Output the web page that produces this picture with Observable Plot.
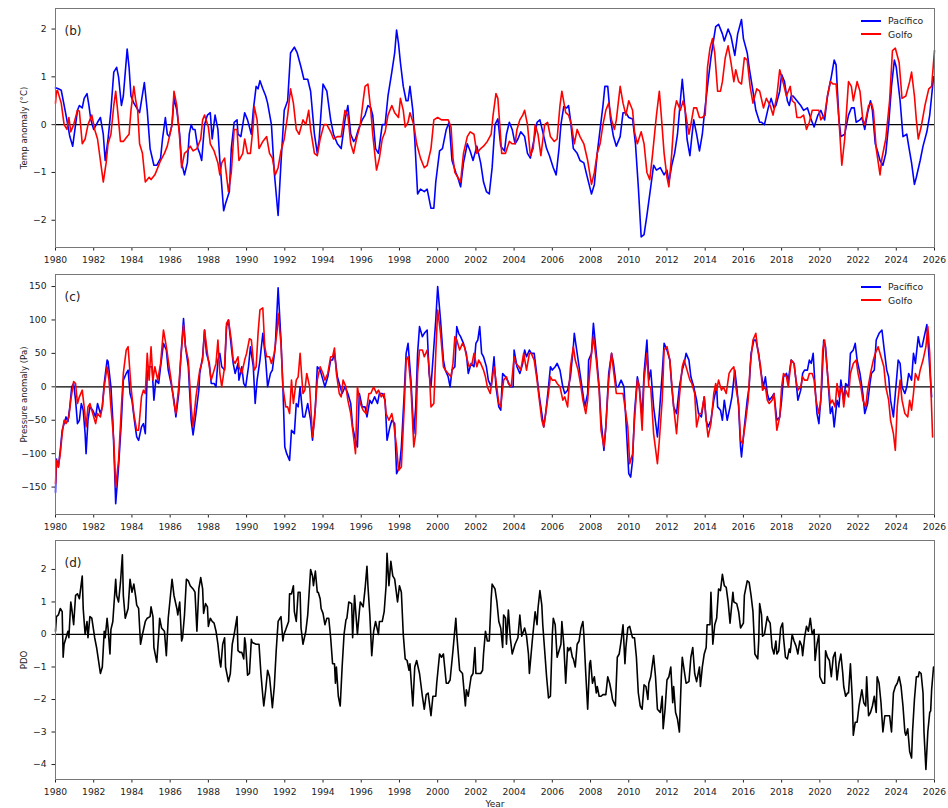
<!DOCTYPE html>
<html><head><meta charset="utf-8">
<script src="https://cdn.jsdelivr.net/npm/d3@7"></script>
<script src="https://cdn.jsdelivr.net/npm/@observablehq/plot@0.6"></script>
<style>
body{margin:0;background:#fff;font-family:"DejaVu Sans",sans-serif;}
#wrap{position:relative;width:948px;}
g[aria-label="y-axis label"] text{font-size:8.6px;}
g[aria-label="x-axis label"] text{font-size:9px;}
.lg{position:absolute;left:861px;font-size:9.3px;color:#222;line-height:13.5px;}
.lg .row{display:flex;align-items:center;height:13.5px;}
.lg .sw{display:inline-block;width:20px;height:2px;margin-right:7px;}
</style></head><body><div id="wrap"></div>
<script>
const years = d3.range(1980, 2027, 2);
const seriesNames = ["Pacífico", "Golfo"];
const seriesColors = ["#0000ff", "#ff0000"];

const tempPacifico = [[1980.0,0.77],[1980.15,0.75],[1980.3,0.72],[1980.55,0.2],[1980.75,-0.25],[1980.9,-0.45],[1981.15,0.3],[1981.25,0.4],[1981.4,0.35],[1981.5,0.55],[1981.65,0.65],[1981.75,0.4],[1981.85,0.1],[1982.0,-0.1],[1982.2,0.05],[1982.35,0.15],[1982.5,-0.2],[1982.6,-0.75],[1982.75,-0.3],[1982.9,0.3],[1983.05,1.1],[1983.2,1.2],[1983.3,1.0],[1983.45,0.4],[1983.55,0.6],[1983.75,1.58],[1983.85,1.2],[1983.95,0.6],[1984.1,0.45],[1984.25,0.35],[1984.4,0.25],[1984.65,0.88],[1984.8,0.3],[1984.95,-0.5],[1985.15,-0.85],[1985.3,-0.85],[1985.5,-0.7],[1985.6,-0.3],[1985.75,0.15],[1985.85,-0.2],[1985.95,-0.25],[1986.1,0.0],[1986.2,0.55],[1986.35,0.3],[1986.5,-0.2],[1986.6,-0.8],[1986.75,-1.05],[1986.9,-0.8],[1987.0,-0.2],[1987.1,0.0],[1987.2,-0.1],[1987.3,-0.1],[1987.45,-0.5],[1987.55,-0.6],[1987.65,-0.75],[1987.8,0.0],[1987.95,0.2],[1988.1,0.25],[1988.2,-0.3],[1988.35,0.2],[1988.5,-0.1],[1988.6,-0.75],[1988.8,-1.8],[1988.9,-1.65],[1989.1,-1.4],[1989.2,-0.5],[1989.35,0.05],[1989.5,0.1],[1989.55,-0.2],[1989.7,-0.25],[1989.9,0.25],[1990.05,0.1],[1990.25,-0.2],[1990.35,0.3],[1990.5,0.8],[1990.6,0.75],[1990.7,0.92],[1990.85,0.75],[1991.0,0.6],[1991.1,0.45],[1991.3,0.0],[1991.45,-1.0],[1991.65,-1.9],[1991.8,-0.8],[1991.97,0.3],[1992.15,0.5],[1992.3,1.5],[1992.5,1.62],[1992.65,1.5],[1992.85,1.2],[1993.0,0.95],[1993.2,0.95],[1993.35,0.7],[1993.55,-0.2],[1993.7,-0.6],[1993.8,-0.3],[1994.0,0.85],[1994.2,0.7],[1994.3,0.4],[1994.4,0.1],[1994.55,-0.2],[1994.75,-0.4],[1994.95,-0.5],[1995.15,0.1],[1995.3,0.4],[1995.45,-0.2],[1995.6,-0.35],[1995.7,-0.3],[1995.85,-0.1],[1996.05,0.1],[1996.2,0.2],[1996.35,0.4],[1996.5,0.35],[1996.6,0.2],[1996.75,-0.5],[1996.9,-0.6],[1997.1,0.0],[1997.25,0.0],[1997.4,0.6],[1997.6,1.1],[1997.75,1.5],[1997.85,1.98],[1997.95,1.7],[1998.05,1.3],[1998.2,0.8],[1998.35,0.5],[1998.45,0.5],[1998.55,0.8],[1998.7,0.3],[1998.8,-0.3],[1998.95,-1.45],[1999.1,-1.35],[1999.3,-1.4],[1999.45,-1.35],[1999.65,-1.75],[1999.8,-1.75],[1999.9,-1.2],[2000.1,-0.55],[2000.25,-0.5],[2000.45,-0.1],[2000.6,0.05],[2000.75,-0.75],[2000.95,-1.0],[2001.05,-1.1],[2001.2,-1.3],[2001.35,-0.8],[2001.55,-0.4],[2001.7,-0.55],[2001.85,-0.75],[2002.05,-0.45],[2002.25,-0.8],[2002.4,-1.2],[2002.55,-1.4],[2002.7,-1.45],[2002.85,-0.9],[2003.0,0.0],[2003.15,0.12],[2003.3,-0.45],[2003.5,-0.55],[2003.6,-0.2],[2003.75,0.05],[2003.9,-0.1],[2004.05,-0.4],[2004.2,-0.3],[2004.35,-0.15],[2004.55,-0.25],[2004.7,-0.6],[2004.85,-0.7],[2005.05,-0.3],[2005.2,0.05],[2005.35,0.1],[2005.5,-0.15],[2005.7,-0.5],[2005.85,-0.65],[2006.05,-0.9],[2006.2,-1.05],[2006.35,-0.5],[2006.45,0.0],[2006.6,0.38],[2006.75,0.35],[2006.85,0.4],[2006.95,0.1],[2007.1,-0.5],[2007.3,-0.6],[2007.45,-0.75],[2007.65,-0.8],[2007.8,-1.05],[2008.05,-1.45],[2008.2,-1.25],[2008.35,-0.6],[2008.5,-0.1],[2008.65,0.4],[2008.75,0.8],[2008.9,0.8],[2009.05,0.1],[2009.2,-0.25],[2009.35,-0.45],[2009.55,-0.25],[2009.7,0.25],[2009.85,0.25],[2010.0,0.15],[2010.2,0.12],[2010.35,-0.4],[2010.5,-1.3],[2010.65,-2.35],[2010.8,-2.3],[2010.95,-1.9],[2011.15,-1.3],[2011.3,-0.85],[2011.45,-0.95],[2011.65,-0.9],[2011.85,-1.05],[2012.0,-0.95],[2012.1,-1.2],[2012.25,-0.85],[2012.4,-0.6],[2012.55,-0.2],[2012.7,0.5],[2012.8,0.95],[2012.95,0.3],[2013.05,-0.3],[2013.2,-0.65],[2013.3,-0.25],[2013.4,0.1],[2013.55,-0.2],[2013.7,-0.55],[2013.85,-0.2],[2013.95,0.2],[2014.15,0.9],[2014.3,1.4],[2014.45,1.8],[2014.55,2.05],[2014.7,2.1],[2014.9,1.9],[2015.0,1.75],[2015.2,2.0],[2015.35,1.85],[2015.55,1.45],[2015.7,1.9],[2015.9,2.2],[2016.0,1.8],[2016.2,1.5],[2016.3,1.2],[2016.5,0.7],[2016.65,0.3],[2016.85,0.05],[2016.95,0.05],[2017.1,0.0],[2017.3,0.35],[2017.45,0.55],[2017.6,0.35],[2017.7,0.4],[2017.9,0.7],[2018.0,1.05],[2018.15,0.9],[2018.3,0.5],[2018.4,0.4],[2018.5,0.6],[2018.6,0.6],[2018.8,0.5],[2019.0,0.4],[2019.15,0.3],[2019.35,0.35],[2019.55,0.1],[2019.7,-0.05],[2019.9,0.2],[2020.05,0.3],[2020.25,0.1],[2020.4,0.6],[2020.6,1.0],[2020.75,1.35],[2020.85,1.25],[2021.0,0.1],[2021.1,-0.25],[2021.3,-0.2],[2021.5,0.2],[2021.65,0.35],[2021.8,0.35],[2021.9,0.05],[2022.1,0.1],[2022.2,0.15],[2022.35,-0.1],[2022.5,0.25],[2022.65,0.5],[2022.75,0.3],[2022.9,-0.4],[2023.05,-0.6],[2023.15,-0.75],[2023.3,-0.85],[2023.45,-0.6],[2023.6,0.0],[2023.75,0.8],[2023.9,1.35],[2024.0,1.2],[2024.2,0.5],[2024.35,-0.25],[2024.55,-0.2],[2024.65,-0.45],[2024.8,-0.8],[2024.95,-1.25],[2025.05,-1.1],[2025.25,-0.75],[2025.4,-0.45],[2025.6,-0.15],[2025.75,0.2],[2025.85,0.6],[2025.95,1.0]];

const tempGolfo = [[1980.0,0.45],[1980.05,0.7],[1980.1,0.72],[1980.3,0.45],[1980.45,0.0],[1980.6,-0.1],[1980.7,0.15],[1980.8,-0.15],[1980.95,0.0],[1981.15,0.3],[1981.25,0.28],[1981.4,-0.4],[1981.55,-0.3],[1981.7,0.0],[1981.9,0.2],[1982.05,-0.1],[1982.2,-0.3],[1982.4,-0.9],[1982.5,-1.2],[1982.65,-0.8],[1982.75,-0.4],[1982.9,-0.2],[1983.05,0.4],[1983.15,0.7],[1983.25,0.3],[1983.4,-0.35],[1983.55,-0.35],[1983.75,-0.25],[1983.85,-0.2],[1983.95,0.3],[1984.1,0.8],[1984.2,0.5],[1984.3,0.3],[1984.4,-0.4],[1984.55,-0.6],[1984.7,-1.2],[1984.9,-1.1],[1985.0,-1.15],[1985.2,-1.05],[1985.35,-0.9],[1985.5,-0.75],[1985.7,-0.6],[1985.85,-0.45],[1986.1,0.0],[1986.2,0.7],[1986.35,0.4],[1986.5,-0.3],[1986.6,-0.9],[1986.75,-0.6],[1986.9,-0.55],[1987.05,-0.45],[1987.2,-0.55],[1987.4,-0.5],[1987.6,-0.3],[1987.7,0.1],[1987.8,0.2],[1988.0,-0.05],[1988.1,-0.4],[1988.3,-0.55],[1988.5,-0.8],[1988.6,-1.05],[1988.7,-0.8],[1988.85,-0.7],[1988.9,-0.9],[1989.05,-1.4],[1989.2,-1.0],[1989.35,-0.1],[1989.5,-0.1],[1989.6,-0.75],[1989.8,-0.6],[1989.9,-0.3],[1990.05,-0.6],[1990.2,-0.6],[1990.35,0.0],[1990.4,0.38],[1990.55,0.1],[1990.65,-0.5],[1990.85,-0.35],[1991.05,-0.25],[1991.2,-0.6],[1991.35,-0.7],[1991.5,-1.05],[1991.65,-0.9],[1991.8,-0.55],[1991.97,-0.3],[1992.15,0.2],[1992.3,0.75],[1992.45,0.45],[1992.6,-0.1],[1992.75,-0.2],[1992.95,0.1],[1993.1,0.0],[1993.25,0.3],[1993.35,-0.1],[1993.55,-0.6],[1993.7,-0.65],[1993.85,-0.3],[1994.05,0.0],[1994.2,0.0],[1994.4,-0.15],[1994.55,-0.3],[1994.75,-0.25],[1994.95,-0.25],[1995.15,0.3],[1995.3,0.2],[1995.45,-0.4],[1995.6,-0.6],[1995.75,-0.3],[1995.95,0.0],[1996.1,0.5],[1996.2,0.8],[1996.35,0.85],[1996.5,0.3],[1996.6,-0.2],[1996.8,-0.95],[1996.95,-0.7],[1997.1,-0.3],[1997.25,-0.15],[1997.4,0.2],[1997.6,0.4],[1997.75,0.25],[1997.95,0.15],[1998.05,0.55],[1998.2,0.3],[1998.3,-0.05],[1998.45,0.05],[1998.55,0.25],[1998.75,0.0],[1998.9,-0.4],[1999.1,-0.7],[1999.3,-0.9],[1999.45,-0.85],[1999.65,-0.5],[1999.8,0.1],[2000.0,0.15],[2000.2,0.1],[2000.35,0.1],[2000.55,0.1],[2000.7,-0.05],[2000.8,-0.7],[2000.9,-1.0],[2001.05,-1.1],[2001.2,-1.2],[2001.35,-0.6],[2001.55,-0.25],[2001.7,-0.15],[2001.9,-0.2],[2002.05,-0.6],[2002.25,-0.5],[2002.4,-0.45],[2002.6,-0.35],[2002.8,-0.2],[2002.9,0.2],[2003.05,0.65],[2003.15,0.55],[2003.25,0.0],[2003.35,-0.6],[2003.55,-0.6],[2003.75,-0.35],[2003.9,-0.4],[2004.05,-0.4],[2004.15,-0.1],[2004.3,0.1],[2004.45,0.2],[2004.55,0.3],[2004.7,0.0],[2004.85,-0.65],[2005.0,-0.5],[2005.1,0.0],[2005.25,-0.2],[2005.4,-0.65],[2005.6,0.0],[2005.75,0.05],[2005.9,-0.25],[2006.1,-0.35],[2006.25,-0.3],[2006.4,0.4],[2006.5,0.7],[2006.7,0.25],[2006.85,0.2],[2007.0,0.0],[2007.15,-0.4],[2007.3,-0.1],[2007.45,-0.25],[2007.65,-0.4],[2007.85,-0.75],[2008.05,-1.25],[2008.2,-1.0],[2008.35,-0.6],[2008.5,-0.4],[2008.65,0.0],[2008.8,0.3],[2008.95,0.45],[2009.1,0.1],[2009.25,-0.1],[2009.35,0.1],[2009.55,0.8],[2009.7,0.45],[2009.85,0.2],[2010.0,0.5],[2010.2,0.3],[2010.3,-0.15],[2010.45,-0.4],[2010.65,-0.15],[2010.8,-0.4],[2010.95,-1.0],[2011.1,-1.15],[2011.25,-0.6],[2011.45,0.2],[2011.6,0.7],[2011.7,0.2],[2011.85,-0.6],[2012.0,-1.1],[2012.1,-1.3],[2012.25,-0.6],[2012.4,0.3],[2012.5,0.5],[2012.7,0.3],[2012.85,0.5],[2012.95,0.3],[2013.15,-0.2],[2013.25,0.0],[2013.4,0.35],[2013.55,0.35],[2013.7,0.15],[2013.85,0.15],[2014.0,0.2],[2014.12,1.2],[2014.25,1.6],[2014.38,1.8],[2014.5,1.5],[2014.65,0.7],[2014.8,0.7],[2014.9,0.9],[2015.05,1.4],[2015.2,1.65],[2015.35,1.3],[2015.5,0.9],[2015.6,1.15],[2015.75,0.9],[2015.9,0.85],[2016.05,1.4],[2016.2,1.35],[2016.35,0.8],[2016.5,0.45],[2016.7,0.75],[2016.85,0.7],[2017.05,0.35],[2017.2,0.55],[2017.4,0.4],[2017.55,0.2],[2017.75,0.6],[2017.9,1.15],[2018.1,0.85],[2018.25,0.6],[2018.45,0.8],[2018.55,0.5],[2018.7,0.45],[2018.8,0.15],[2019.0,0.15],[2019.15,0.2],[2019.3,-0.1],[2019.45,0.05],[2019.6,0.3],[2019.8,0.3],[2019.95,0.3],[2020.05,0.1],[2020.25,0.2],[2020.4,0.6],[2020.55,0.9],[2020.7,0.85],[2020.85,0.85],[2021.0,0.1],[2021.15,-0.85],[2021.3,-0.3],[2021.4,0.3],[2021.5,0.9],[2021.65,0.8],[2021.75,0.5],[2021.95,0.9],[2022.1,0.7],[2022.25,0.1],[2022.35,0.0],[2022.55,0.4],[2022.7,0.45],[2022.8,0.3],[2022.95,-0.5],[2023.15,-1.05],[2023.25,-0.7],[2023.45,-0.3],[2023.65,0.5],[2023.8,1.55],[2023.95,1.6],[2024.15,1.3],[2024.3,0.55],[2024.5,0.6],[2024.7,0.9],[2024.8,1.1],[2024.95,0.6],[2025.05,0.1],[2025.15,-0.3],[2025.3,-0.05],[2025.5,0.4],[2025.7,0.75],[2025.85,0.8],[2026.0,1.55]];

const pressPacifico = [[1980.0,-158],[1980.05,-108],[1980.15,-120],[1980.25,-95],[1980.35,-65],[1980.45,-55],[1980.55,-45],[1980.65,-52],[1980.75,-30],[1980.85,0],[1980.95,5],[1981.05,-20],[1981.15,-55],[1981.25,-50],[1981.35,-25],[1981.45,-35],[1981.55,-70],[1981.6,-100],[1981.7,-50],[1981.8,-30],[1981.95,-35],[1982.1,-45],[1982.2,-25],[1982.35,-40],[1982.45,-30],[1982.55,5],[1982.7,40],[1982.75,38],[1982.9,0],[1983.0,-50],[1983.1,-130],[1983.15,-175],[1983.3,-120],[1983.45,-50],[1983.55,10],[1983.7,20],[1983.8,25],[1983.9,-10],[1984.0,-20],[1984.15,-55],[1984.25,-75],[1984.35,-80],[1984.5,-60],[1984.6,-55],[1984.7,-70],[1984.8,20],[1984.9,30],[1985.05,30],[1985.15,-20],[1985.25,10],[1985.4,5],[1985.5,30],[1985.65,65],[1985.8,55],[1985.9,25],[1986.05,5],[1986.2,-20],[1986.3,-45],[1986.45,-10],[1986.55,40],[1986.7,102],[1986.8,60],[1986.95,30],[1987.1,-50],[1987.2,-72],[1987.35,-40],[1987.5,-5],[1987.55,20],[1987.7,45],[1987.8,85],[1987.9,50],[1988.05,35],[1988.15,5],[1988.3,5],[1988.4,0],[1988.5,40],[1988.6,50],[1988.7,30],[1988.85,25],[1988.95,90],[1989.05,100],[1989.2,60],[1989.3,35],[1989.4,20],[1989.55,35],[1989.6,10],[1989.75,30],[1989.85,5],[1989.95,0],[1990.1,30],[1990.2,60],[1990.35,30],[1990.45,-25],[1990.55,10],[1990.7,40],[1990.85,80],[1991.0,40],[1991.1,0],[1991.25,20],[1991.35,25],[1991.5,60],[1991.65,148],[1991.8,70],[1991.9,0],[1992.0,-90],[1992.1,-100],[1992.25,-110],[1992.35,-65],[1992.5,-70],[1992.6,-25],[1992.7,-30],[1992.8,0],[1992.95,-45],[1993.05,-45],[1993.2,-25],[1993.35,-50],[1993.45,-80],[1993.6,-30],[1993.7,30],[1993.85,25],[1994.0,10],[1994.1,0],[1994.25,15],[1994.4,40],[1994.5,40],[1994.6,50],[1994.75,15],[1994.9,0],[1995.0,-10],[1995.15,0],[1995.3,-10],[1995.45,-25],[1995.55,-60],[1995.7,-80],[1995.8,-90],[1995.9,-10],[1996.05,-30],[1996.2,-30],[1996.3,-45],[1996.45,-20],[1996.55,-25],[1996.7,-15],[1996.85,-25],[1996.95,-10],[1997.1,-10],[1997.25,-20],[1997.35,-80],[1997.5,-60],[1997.6,-50],[1997.75,-55],[1997.85,-130],[1998.0,-120],[1998.1,-90],[1998.25,-10],[1998.35,50],[1998.45,65],[1998.6,10],[1998.75,-70],[1998.85,-30],[1998.95,50],[1999.05,90],[1999.2,75],[1999.3,80],[1999.45,85],[1999.55,20],[1999.65,0],[1999.8,60],[1999.9,100],[2000.0,150],[2000.15,100],[2000.3,40],[2000.4,25],[2000.55,15],[2000.65,0],[2000.75,25],[2000.9,30],[2001.0,90],[2001.1,80],[2001.2,75],[2001.35,65],[2001.5,50],[2001.6,20],[2001.75,35],[2001.9,30],[2002.0,65],[2002.1,70],[2002.2,90],[2002.3,50],[2002.4,45],[2002.55,30],[2002.65,10],[2002.8,0],[2002.95,45],[2003.05,0],[2003.2,-30],[2003.3,-35],[2003.4,20],[2003.55,15],[2003.65,10],[2003.8,0],[2003.95,0],[2004.0,55],[2004.15,30],[2004.3,20],[2004.45,35],[2004.55,55],[2004.65,45],[2004.8,55],[2004.9,50],[2005.05,50],[2005.2,15],[2005.3,-10],[2005.45,-40],[2005.55,-60],[2005.65,-40],[2005.8,0],[2005.9,30],[2006.0,25],[2006.15,30],[2006.25,35],[2006.4,25],[2006.55,0],[2006.65,-10],[2006.8,-5],[2006.95,15],[2007.1,60],[2007.15,80],[2007.3,50],[2007.4,30],[2007.55,0],[2007.7,-30],[2007.85,-10],[2007.9,40],[2008.05,50],[2008.15,95],[2008.3,50],[2008.45,0],[2008.55,-50],[2008.7,-95],[2008.8,-60],[2008.95,20],[2009.1,50],[2009.2,35],[2009.35,0],[2009.45,0],[2009.6,10],[2009.75,0],[2009.85,-50],[2010.0,-130],[2010.1,-135],[2010.2,-110],[2010.3,-40],[2010.45,15],[2010.55,0],[2010.7,-45],[2010.8,20],[2010.95,70],[2011.05,10],[2011.15,25],[2011.3,-30],[2011.5,-75],[2011.6,-40],[2011.75,20],[2011.85,65],[2012.0,55],[2012.15,40],[2012.25,0],[2012.35,-30],[2012.5,-40],[2012.65,0],[2012.8,25],[2012.9,35],[2013.0,50],[2013.15,40],[2013.25,15],[2013.4,0],[2013.55,-20],[2013.65,-40],[2013.8,-45],[2013.95,-15],[2014.05,-50],[2014.15,-60],[2014.3,-50],[2014.45,-20],[2014.6,0],[2014.65,-30],[2014.8,-35],[2014.9,-50],[2015.0,-20],[2015.15,-50],[2015.3,-30],[2015.4,-15],[2015.55,25],[2015.65,0],[2015.75,-30],[2015.85,-90],[2015.9,-105],[2016.05,-60],[2016.2,-20],[2016.3,0],[2016.4,50],[2016.55,70],[2016.65,70],[2016.8,50],[2016.9,25],[2017.05,0],[2017.15,15],[2017.25,-10],[2017.35,-20],[2017.5,-15],[2017.6,-10],[2017.75,-50],[2017.9,-45],[2018.0,-20],[2018.1,15],[2018.25,20],[2018.35,10],[2018.5,40],[2018.65,35],[2018.75,10],[2018.85,-20],[2019.0,-5],[2019.1,20],[2019.2,25],[2019.35,25],[2019.45,40],[2019.55,35],[2019.65,50],[2019.75,0],[2019.85,-40],[2019.95,-55],[2020.1,0],[2020.2,70],[2020.3,60],[2020.45,0],[2020.55,-40],[2020.65,-30],[2020.75,-60],[2020.9,-20],[2021.0,-30],[2021.1,10],[2021.25,-20],[2021.35,5],[2021.5,0],[2021.6,50],[2021.75,55],[2021.85,65],[2021.95,40],[2022.1,20],[2022.25,-10],[2022.35,-40],[2022.5,-25],[2022.6,0],[2022.7,20],[2022.85,25],[2022.95,70],[2023.1,80],[2023.25,85],[2023.35,60],[2023.5,25],[2023.6,15],[2023.7,-20],[2023.85,-45],[2023.95,-10],[2024.1,40],[2024.2,35],[2024.3,0],[2024.45,-10],[2024.55,0],[2024.65,20],[2024.8,10],[2024.9,50],[2025.0,35],[2025.15,75],[2025.25,60],[2025.35,60],[2025.5,80],[2025.6,93],[2025.7,50],[2025.85,-15]];

const pressGolfo = [[1980.0,-145],[1980.05,-110],[1980.15,-120],[1980.25,-100],[1980.35,-70],[1980.45,-50],[1980.55,-55],[1980.7,-45],[1980.8,-20],[1980.95,8],[1981.05,5],[1981.15,-25],[1981.25,-15],[1981.4,-5],[1981.5,-30],[1981.6,-60],[1981.7,-30],[1981.8,-25],[1981.95,-40],[1982.1,-55],[1982.2,-40],[1982.35,-45],[1982.45,-30],[1982.55,0],[1982.7,30],[1982.8,10],[1982.9,-30],[1983.05,-80],[1983.15,-150],[1983.3,-110],[1983.45,-30],[1983.55,20],[1983.7,55],[1983.8,60],[1983.95,0],[1984.1,-40],[1984.25,-65],[1984.35,-65],[1984.5,-15],[1984.6,-5],[1984.7,-10],[1984.8,50],[1984.9,10],[1985.0,60],[1985.1,10],[1985.2,30],[1985.35,10],[1985.5,35],[1985.65,85],[1985.8,60],[1985.9,40],[1986.05,10],[1986.2,-25],[1986.3,-40],[1986.45,0],[1986.55,40],[1986.7,92],[1986.8,60],[1986.95,40],[1987.1,-30],[1987.2,-60],[1987.35,-15],[1987.5,15],[1987.55,25],[1987.7,40],[1987.8,85],[1987.95,50],[1988.05,30],[1988.15,10],[1988.3,25],[1988.4,35],[1988.5,70],[1988.6,20],[1988.7,0],[1988.85,30],[1988.95,95],[1989.05,100],[1989.2,70],[1989.3,40],[1989.4,35],[1989.55,45],[1989.6,30],[1989.75,20],[1989.9,40],[1990.0,50],[1990.15,72],[1990.25,70],[1990.4,25],[1990.5,30],[1990.6,80],[1990.7,115],[1990.85,118],[1990.95,60],[1991.05,45],[1991.2,45],[1991.3,35],[1991.45,50],[1991.6,85],[1991.65,110],[1991.8,65],[1991.9,0],[1992.05,-30],[1992.15,-30],[1992.25,-40],[1992.35,10],[1992.45,-25],[1992.6,10],[1992.7,15],[1992.8,50],[1992.95,-10],[1993.05,-5],[1993.15,20],[1993.3,0],[1993.45,-75],[1993.55,-50],[1993.7,10],[1993.85,30],[1994.0,20],[1994.1,10],[1994.25,20],[1994.4,45],[1994.5,45],[1994.6,58],[1994.7,20],[1994.85,-10],[1994.95,-15],[1995.05,10],[1995.2,0],[1995.3,-20],[1995.45,-40],[1995.6,-75],[1995.7,-100],[1995.8,0],[1995.95,-25],[1996.1,-35],[1996.25,-40],[1996.4,-10],[1996.5,-10],[1996.65,0],[1996.8,-10],[1996.9,-5],[1997.05,-15],[1997.2,-10],[1997.3,-40],[1997.45,-50],[1997.6,-40],[1997.7,-55],[1997.85,-90],[1997.95,-125],[1998.1,-120],[1998.25,-30],[1998.35,40],[1998.45,45],[1998.6,0],[1998.75,-90],[1998.85,-70],[1998.95,20],[1999.05,55],[1999.2,55],[1999.3,45],[1999.45,55],[1999.55,30],[1999.65,-30],[1999.8,-25],[1999.9,50],[2000.0,115],[2000.15,80],[2000.3,30],[2000.4,25],[2000.55,20],[2000.7,15],[2000.8,35],[2000.9,75],[2001.0,70],[2001.15,55],[2001.3,65],[2001.4,60],[2001.55,40],[2001.65,30],[2001.8,35],[2001.9,50],[2002.05,30],[2002.15,40],[2002.25,35],[2002.4,25],[2002.5,15],[2002.6,0],[2002.75,-10],[2002.95,30],[2003.05,10],[2003.2,-25],[2003.3,-30],[2003.45,10],[2003.6,15],[2003.7,5],[2003.85,0],[2004.0,45],[2004.1,35],[2004.25,30],[2004.35,25],[2004.5,50],[2004.65,25],[2004.8,50],[2004.9,50],[2005.05,40],[2005.2,10],[2005.3,-15],[2005.45,-50],[2005.55,-60],[2005.65,-40],[2005.8,-10],[2005.9,15],[2006.0,10],[2006.15,10],[2006.25,5],[2006.4,0],[2006.55,-20],[2006.65,-15],[2006.8,-30],[2006.95,30],[2007.1,60],[2007.2,40],[2007.35,25],[2007.5,0],[2007.6,-20],[2007.75,-40],[2007.85,-20],[2007.95,20],[2008.05,50],[2008.15,75],[2008.3,40],[2008.45,-5],[2008.55,-65],[2008.7,-90],[2008.8,-60],[2008.95,10],[2009.1,50],[2009.2,25],[2009.35,-10],[2009.45,-10],[2009.55,-10],[2009.7,-10],[2009.8,-30],[2009.95,-60],[2010.05,-115],[2010.2,-100],[2010.3,-50],[2010.45,10],[2010.55,0],[2010.7,-65],[2010.8,10],[2010.95,50],[2011.05,0],[2011.15,0],[2011.3,-70],[2011.5,-115],[2011.6,-80],[2011.75,-20],[2011.85,55],[2012.0,60],[2012.15,40],[2012.25,5],[2012.35,-30],[2012.5,-70],[2012.65,-15],[2012.8,30],[2012.9,40],[2013.05,25],[2013.2,10],[2013.3,5],[2013.45,-10],[2013.55,-60],[2013.7,-40],[2013.8,-40],[2013.95,-15],[2014.05,-50],[2014.15,-75],[2014.3,-55],[2014.45,-10],[2014.55,5],[2014.6,-5],[2014.7,10],[2014.85,-5],[2014.95,0],[2015.1,-10],[2015.25,20],[2015.35,25],[2015.5,30],[2015.6,0],[2015.75,-25],[2015.85,-80],[2015.95,-85],[2016.1,-55],[2016.25,-20],[2016.35,30],[2016.5,70],[2016.65,80],[2016.75,55],[2016.9,30],[2017.0,-5],[2017.15,0],[2017.25,-20],[2017.35,-25],[2017.5,-20],[2017.6,-10],[2017.75,-65],[2017.9,-45],[2018.0,0],[2018.1,20],[2018.25,15],[2018.35,0],[2018.5,40],[2018.65,35],[2018.75,10],[2018.85,-5],[2019.0,0],[2019.1,15],[2019.2,10],[2019.35,10],[2019.45,20],[2019.6,20],[2019.7,10],[2019.8,-20],[2019.95,-40],[2020.05,-20],[2020.15,55],[2020.25,70],[2020.4,20],[2020.55,-25],[2020.65,-20],[2020.8,-30],[2020.9,5],[2021.0,-15],[2021.15,0],[2021.25,-30],[2021.35,-5],[2021.5,-15],[2021.6,20],[2021.75,35],[2021.9,40],[2022.0,20],[2022.15,0],[2022.25,-20],[2022.4,-30],[2022.5,-5],[2022.65,20],[2022.8,40],[2022.9,50],[2023.05,60],[2023.2,45],[2023.35,30],[2023.45,0],[2023.6,-20],[2023.7,-50],[2023.85,-70],[2023.95,-95],[2024.05,-30],[2024.2,10],[2024.3,-20],[2024.45,-40],[2024.6,-45],[2024.7,-20],[2024.8,-35],[2024.9,-10],[2025.0,20],[2025.15,10],[2025.25,25],[2025.4,40],[2025.55,60],[2025.65,90],[2025.75,50],[2025.9,-75]];

const pdo = [[1980.0,0.1],[1980.05,0.55],[1980.15,0.6],[1980.25,0.8],[1980.35,0.7],[1980.4,-0.7],[1980.45,-0.3],[1980.55,-0.1],[1980.65,0.1],[1980.7,-0.1],[1980.8,1.0],[1980.85,0.8],[1980.95,0.3],[1981.05,1.2],[1981.15,1.25],[1981.25,1.1],[1981.4,1.8],[1981.45,0.8],[1981.55,0.0],[1981.65,0.4],[1981.7,-0.1],[1981.8,0.55],[1981.9,0.5],[1982.05,-0.1],[1982.15,-0.4],[1982.25,-0.8],[1982.35,-1.2],[1982.45,-1.0],[1982.55,0.1],[1982.6,-0.1],[1982.7,0.5],[1982.75,0.2],[1982.85,-0.6],[1982.9,0.15],[1983.0,0.4],[1983.15,1.7],[1983.2,1.2],[1983.3,1.0],[1983.4,1.6],[1983.5,2.45],[1983.55,1.2],[1983.65,0.5],[1983.8,0.8],[1983.9,1.7],[1984.0,1.3],[1984.1,1.55],[1984.2,1.15],[1984.25,0.9],[1984.35,0.8],[1984.45,-0.3],[1984.55,0.0],[1984.7,0.4],[1984.8,0.5],[1984.95,0.55],[1985.0,0.85],[1985.1,0.55],[1985.15,-0.4],[1985.3,-0.85],[1985.4,0.0],[1985.45,0.5],[1985.55,0.2],[1985.7,0.1],[1985.8,-0.65],[1985.9,0.5],[1986.0,1.1],[1986.1,1.7],[1986.2,1.2],[1986.35,0.8],[1986.4,0.6],[1986.5,1.0],[1986.6,-0.2],[1986.65,-0.1],[1986.75,0.6],[1986.85,1.7],[1986.95,1.65],[1987.05,1.5],[1987.2,1.4],[1987.3,1.3],[1987.4,0.1],[1987.5,1.4],[1987.6,1.75],[1987.7,1.4],[1987.75,0.65],[1987.85,0.95],[1987.95,0.85],[1988.0,0.25],[1988.1,0.5],[1988.2,0.4],[1988.3,0.35],[1988.4,0.1],[1988.5,-0.3],[1988.6,-0.85],[1988.65,-1.0],[1988.75,-0.3],[1988.85,-0.1],[1988.9,-1.0],[1989.05,-1.45],[1989.15,-1.2],[1989.25,-0.3],[1989.35,0.0],[1989.5,0.55],[1989.55,-0.5],[1989.65,-0.55],[1989.75,-0.55],[1989.85,-0.75],[1989.9,-0.1],[1989.95,-0.3],[1990.05,-1.25],[1990.15,-1.2],[1990.25,-0.15],[1990.3,-0.25],[1990.5,-0.3],[1990.55,-0.3],[1990.65,-0.3],[1990.75,-1.2],[1990.85,-1.9],[1990.9,-2.2],[1991.0,-1.7],[1991.1,-1.1],[1991.2,-1.3],[1991.25,-1.6],[1991.35,-2.25],[1991.45,-1.6],[1991.55,-0.5],[1991.65,0.4],[1991.75,0.5],[1991.8,0.55],[1991.9,-0.2],[1991.95,0.0],[1992.05,0.15],[1992.2,0.4],[1992.25,1.25],[1992.35,1.25],[1992.45,1.5],[1992.5,0.7],[1992.6,0.4],[1992.7,1.3],[1992.8,1.3],[1992.85,0.2],[1992.95,-0.3],[1993.1,0.1],[1993.2,0.6],[1993.35,2.0],[1993.45,1.8],[1993.5,1.5],[1993.6,1.95],[1993.7,1.3],[1993.75,1.3],[1993.85,1.1],[1993.9,0.8],[1994.0,0.65],[1994.1,0.3],[1994.2,0.5],[1994.3,0.5],[1994.4,-0.1],[1994.5,-0.9],[1994.6,-0.9],[1994.65,-1.5],[1994.7,-1.0],[1994.8,-1.9],[1994.9,-2.2],[1995.0,-1.0],[1995.1,0.0],[1995.2,0.45],[1995.25,0.5],[1995.35,1.0],[1995.5,0.95],[1995.55,-0.1],[1995.65,1.2],[1995.8,0.0],[1995.9,0.7],[1995.95,1.0],[1996.1,0.85],[1996.2,1.4],[1996.3,2.1],[1996.35,1.5],[1996.45,0.6],[1996.55,-0.65],[1996.65,0.1],[1996.75,0.4],[1996.9,0.0],[1996.95,0.4],[1997.1,0.4],[1997.2,0.7],[1997.3,1.5],[1997.35,2.5],[1997.45,1.5],[1997.55,2.25],[1997.65,1.8],[1997.75,1.7],[1997.9,1.0],[1998.0,1.5],[1998.1,1.3],[1998.2,0.0],[1998.3,-0.75],[1998.4,-0.8],[1998.5,-1.1],[1998.55,-0.9],[1998.7,-2.2],[1998.8,-1.0],[1998.9,-0.8],[1999.05,-1.2],[1999.2,-1.9],[1999.3,-2.3],[1999.4,-1.85],[1999.5,-1.8],[1999.65,-2.5],[1999.75,-1.9],[1999.9,-1.9],[1999.95,-1.5],[2000.1,-0.6],[2000.2,-0.7],[2000.3,-0.6],[2000.45,-1.5],[2000.55,-1.5],[2000.65,-1.4],[2000.8,-0.5],[2000.95,0.5],[2001.0,0.0],[2001.15,-1.1],[2001.3,-1.2],[2001.45,-2.2],[2001.5,-1.7],[2001.6,-1.9],[2001.75,-1.3],[2001.85,-1.2],[2001.95,-0.4],[2002.0,-1.2],[2002.1,-1.2],[2002.25,-1.2],[2002.35,-1.1],[2002.4,-0.6],[2002.5,0.1],[2002.6,-0.2],[2002.7,-0.2],[2002.8,1.1],[2002.85,1.55],[2003.0,1.4],[2003.1,1.0],[2003.2,0.4],[2003.3,0.2],[2003.4,-0.4],[2003.45,0.6],[2003.55,0.5],[2003.6,-0.3],[2003.7,0.75],[2003.8,-0.1],[2003.9,-0.6],[2004.05,-0.3],[2004.2,-0.1],[2004.3,0.6],[2004.4,-0.05],[2004.55,0.2],[2004.65,-0.05],[2004.75,-0.6],[2004.8,-1.2],[2004.95,-0.2],[2005.1,0.7],[2005.2,0.3],[2005.25,0.8],[2005.35,1.35],[2005.45,0.9],[2005.5,0.3],[2005.6,-0.5],[2005.7,-1.3],[2005.8,-1.95],[2005.9,-1.9],[2006.0,0.0],[2006.05,0.5],[2006.15,0.3],[2006.25,-0.7],[2006.35,-0.5],[2006.45,-0.3],[2006.5,0.4],[2006.6,-0.3],[2006.7,-1.5],[2006.8,-0.4],[2006.85,-0.5],[2006.95,-0.4],[2007.05,-0.7],[2007.1,-0.75],[2007.2,-1.0],[2007.3,-0.3],[2007.4,-0.2],[2007.5,0.2],[2007.6,0.4],[2007.65,0.0],[2007.75,-1.2],[2007.85,-2.3],[2007.95,-0.9],[2008.0,-0.8],[2008.1,-1.5],[2008.2,-1.3],[2008.3,-1.8],[2008.35,-1.6],[2008.45,-1.9],[2008.55,-1.9],[2008.65,-1.85],[2008.8,-1.85],[2008.9,-1.3],[2009.0,-1.5],[2009.1,-1.8],[2009.15,-2.0],[2009.3,-2.2],[2009.4,-0.7],[2009.5,-0.6],[2009.6,-0.2],[2009.7,0.3],[2009.8,-0.9],[2009.85,-0.4],[2009.95,0.2],[2010.05,0.25],[2010.15,0.0],[2010.2,-0.1],[2010.3,-0.1],[2010.4,-0.7],[2010.5,-1.8],[2010.6,-2.2],[2010.7,-2.3],[2010.8,-1.55],[2010.9,-1.6],[2011.0,-2.0],[2011.05,-1.5],[2011.15,-1.3],[2011.3,-0.65],[2011.4,-1.3],[2011.5,-2.3],[2011.65,-2.4],[2011.75,-1.9],[2011.8,-2.9],[2011.9,-2.3],[2012.0,-1.4],[2012.1,-1.3],[2012.2,-1.0],[2012.3,-2.1],[2012.35,-1.6],[2012.45,-2.4],[2012.55,-2.6],[2012.65,-3.0],[2012.75,-1.3],[2012.8,-0.7],[2012.9,-1.1],[2013.0,-1.5],[2013.15,-1.45],[2013.25,-0.7],[2013.35,-0.4],[2013.45,-1.2],[2013.55,-1.45],[2013.7,-1.0],[2013.75,-1.6],[2013.85,-1.0],[2013.95,-0.6],[2014.05,-0.4],[2014.1,0.3],[2014.25,0.3],[2014.3,1.3],[2014.4,-0.3],[2014.5,0.3],[2014.6,0.5],[2014.7,1.4],[2014.8,1.35],[2014.9,1.85],[2015.0,1.5],[2015.1,1.45],[2015.2,1.0],[2015.3,0.35],[2015.45,1.3],[2015.5,1.0],[2015.65,0.95],[2015.75,0.7],[2015.85,0.2],[2016.0,0.35],[2016.05,1.2],[2016.2,1.65],[2016.3,1.6],[2016.4,1.2],[2016.5,0.7],[2016.6,-0.6],[2016.75,-0.75],[2016.8,-0.2],[2016.85,0.95],[2016.95,0.6],[2017.0,-0.05],[2017.1,0.0],[2017.25,0.55],[2017.3,0.45],[2017.4,0.35],[2017.5,-0.4],[2017.6,-0.6],[2017.7,-0.2],[2017.75,-0.6],[2017.85,-0.5],[2017.95,0.2],[2018.05,0.35],[2018.1,-0.1],[2018.2,-0.7],[2018.3,-0.75],[2018.4,-0.45],[2018.45,-0.55],[2018.55,0.0],[2018.65,-0.2],[2018.75,-0.35],[2018.85,-0.6],[2018.95,-0.2],[2019.05,-0.35],[2019.1,-0.65],[2019.2,-0.1],[2019.3,0.25],[2019.4,0.1],[2019.5,0.5],[2019.6,0.0],[2019.7,0.15],[2019.75,-0.8],[2019.85,-0.3],[2019.95,0.0],[2020.0,-1.3],[2020.15,-1.5],[2020.25,-1.5],[2020.3,-0.5],[2020.4,-0.7],[2020.5,-0.8],[2020.6,-1.3],[2020.7,-0.7],[2020.8,-0.55],[2020.9,-1.4],[2021.0,-0.9],[2021.1,-0.6],[2021.2,-1.2],[2021.25,-1.6],[2021.35,-1.9],[2021.45,-1.8],[2021.5,-1.8],[2021.6,-0.9],[2021.7,-2.0],[2021.75,-3.1],[2021.85,-2.7],[2021.95,-2.7],[2022.05,-2.2],[2022.2,-1.7],[2022.3,-2.1],[2022.4,-2.2],[2022.45,-1.3],[2022.55,-2.5],[2022.65,-2.4],[2022.75,-2.2],[2022.85,-1.9],[2022.95,-2.4],[2023.0,-1.3],[2023.1,-1.5],[2023.2,-2.1],[2023.3,-3.0],[2023.4,-2.5],[2023.5,-2.5],[2023.6,-2.5],[2023.65,-2.5],[2023.75,-3.0],[2023.85,-1.8],[2023.95,-1.6],[2024.05,-1.5],[2024.15,-1.3],[2024.25,-1.6],[2024.35,-2.2],[2024.45,-3.0],[2024.5,-3.1],[2024.6,-2.9],[2024.7,-3.6],[2024.8,-3.8],[2024.85,-3.0],[2024.95,-2.0],[2025.05,-1.3],[2025.15,-1.3],[2025.2,-1.15],[2025.3,-1.2],[2025.4,-1.8],[2025.45,-3.0],[2025.55,-4.15],[2025.65,-3.0],[2025.75,-2.4],[2025.8,-2.35],[2025.85,-1.7],[2025.95,-1.0]];

const tempTicks = [-2, -1, 0, 1, 2];
const pressTicks = [-150, -100, -50, 0, 50, 100, 150];
const pdoTicks = [-4, -3, -2, -1, 0, 1, 2];

const fmt = d => (d < 0 ? "\u2212" : "") + Math.abs(d);

function panel({lines, yDomain, yTicks, yLabel, tag, height, marginTop, marginBottom, xLabel}) {
  return Plot.plot({
    width: 948, height, marginLeft: 55, marginRight: 14, marginTop, marginBottom,
    style: {fontFamily: "'DejaVu Sans', sans-serif", fontSize: "9.2px", color: "#222", background: "#fff", overflow: "visible"},
    x: {domain: [1980, 2026], ticks: years, tickFormat: "d", tickSize: 3.5, label: xLabel ?? null, labelAnchor: "center", labelArrow: "none", labelOffset: 27},
    y: {domain: yDomain, ticks: yTicks, tickFormat: fmt, tickSize: 3.5, label: yLabel, labelAnchor: "center", labelArrow: "none", labelOffset: 35},
    marks: [
      Plot.ruleY([0], {stroke: "#000", strokeWidth: 1.3}),
      ...lines.map(l => Plot.line(l.data, {x: d => d[0], y: d => d[1], stroke: l.color, strokeWidth: 1.6})),
      Plot.frame({stroke: "#777"}),
      Plot.text([tag], {frameAnchor: "top-left", dx: 9, dy: 18, fontSize: 12, fill: "#222"})
    ]
  });
}

const wrap = document.getElementById("wrap");
wrap.append(panel({
  lines: [{data: tempPacifico, color: seriesColors[0]}, {data: tempGolfo, color: seriesColors[1]}],
  yDomain: [-2.57, 2.43], yTicks: tempTicks, yLabel: "Temp anomaly (°C)", tag: "(b)",
  height: 264, marginTop: 8, marginBottom: 17
}));
wrap.append(panel({
  lines: [{data: pressPacifico, color: seriesColors[0]}, {data: pressGolfo, color: seriesColors[1]}],
  yDomain: [-191, 168], yTicks: pressTicks, yLabel: "Pressure anomaly (Pa)", tag: "(c)",
  height: 266, marginTop: 10, marginBottom: 16
}));
wrap.append(panel({
  lines: [{data: pdo, color: "#000"}],
  yDomain: [-4.46, 2.89], yTicks: pdoTicks, yLabel: "PDO", tag: "(d)", xLabel: "Year",
  height: 278, marginTop: 10, marginBottom: 29
}));

function legend(top) {
  const div = document.createElement("div");
  div.className = "lg";
  div.style.top = top + "px";
  seriesNames.forEach((name, i) => {
    const row = document.createElement("div");
    row.className = "row";
    const sw = document.createElement("span");
    sw.className = "sw";
    sw.style.background = seriesColors[i];
    row.append(sw, document.createTextNode(name));
    div.append(row);
  });
  wrap.append(div);
}
legend(14);
legend(280);
</script></body></html>
